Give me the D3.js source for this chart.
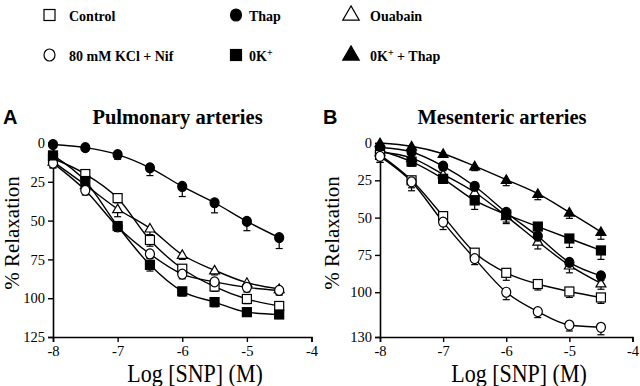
<!DOCTYPE html>
<html>
<head>
<meta charset="utf-8">
<script src="https://cdn.jsdelivr.net/npm/d3@7"></script>
<style>
  body { margin: 0; background: #fff; }
  svg { display: block; }
  text { fill: #000; }
</style>
</head>
<body>
<div class="svg"></div>
<script>
// log doses and axis ticks
const doses = [-8, -7.5, -7, -6.5, -6, -5.5, -5, -4.5];
const xTicks = [-8, -7, -6, -5, -4];
const yTicksA = [0, 25, 50, 75, 100, 125];
const yTicksB = [0, 25, 50, 75, 100, 130];

// Panel A - pulmonary arteries (% relaxation, SEM)
const pulmControl = [10, 20, 35.5, 62.5, 81, 92.5, 100.5, 105];
const pulmThap = [1, 3, 7.5, 16, 28, 38.5, 50.5, 61];
const pulmOuabain = [12, 27, 42.5, 55, 72, 82, 90, 94];
const pulmKcl = [13, 30.5, 54, 71.5, 84.5, 89.5, 93, 95];
const pulm0K = [8, 24.5, 53.5, 78.5, 95.6, 102.5, 109, 110.5];
const pulmControlErr = [3, 3, 3, 4, 4, 3, 3, 2];
const pulmThapErr = [0, 2, 3, 5, 6.5, 6.5, 6, 7];
const pulmOuabainErr = [4, 3, 5, 4, 3, 3, 3, 3];
const pulmKclErr = [3, 3, 3, 3, 3, 2, 3, 3];
const pulm0KErr = [3, 3, 3, 4, 3, 3, 2, 2];

// Panel B - mesenteric arteries
const mesControl = [8, 25, 49, 73.5, 87, 94.5, 99.5, 103.5];
const mesThap = [3, 6, 15.5, 29, 46.5, 62.5, 80, 89];
const mesOuabain = [6, 10, 21, 33, 49, 66, 82, 94];
const mesKcl = [9, 26, 53, 77.5, 100, 113, 122, 123.5];
const mes0K = [5, 12.5, 24, 38.5, 48, 56, 64, 72];
const mes0KThap = [0, 2.2, 7.2, 15.5, 24.6, 34, 46.5, 59.5];
const mesControlErr = [5, 5, 4, 4, 5, 4, 4, 4];
const mesThapErr = [2, 2, 3, 3, 4, 4, 4, 3];
const mesOuabainErr = [3, 3, 3, 4, 5, 5, 5, 4];
const mesKclErr = [4, 6, 5, 4, 5, 4, 4, 5];
const mes0KErr = [3, 3, 3, 6, 5, 5, 6, 6];
const mes0KThapErr = [2, 2, 2, 3, 4, 4, 4, 5];

const serif = "'Liberation Serif', 'Times New Roman', Times, 'DejaVu Serif', serif";
const sans = "'Liberation Sans', Arial, sans-serif";

var svg = d3
  .select(".svg")
  .append("svg")
  .attr("width", 640)
  .attr("height", 386);

// marker shapes
function drawMarker(g, shape, x, y, size) {
  const open = shape.startsWith("open");
  const fill = open ? "#fff" : "#000";
  let el;
  if (shape.endsWith("square")) {
    el = g.append("rect")
      .attr("x", x - size / 2).attr("y", y - size / 2)
      .attr("width", size).attr("height", size);
  } else if (shape.endsWith("circle")) {
    el = g.append("ellipse")
      .attr("cx", x).attr("cy", y)
      .attr("rx", size / 2).attr("ry", size / 2 + 0.5);
  } else {
    const h = size * 0.9;
    el = g.append("path")
      .attr("d", `M${x},${y - h * 0.6} L${x + size * 0.55},${y + h * 0.45} L${x - size * 0.55},${y + h * 0.45}Z`);
  }
  el.attr("fill", fill).attr("stroke", "#000").attr("stroke-width", 1.2);
}

function drawPanel(cfg) {
  const x = d3.scaleLinear().domain([-8, -4]).range([cfg.left, cfg.right]);
  const y = d3.scaleLinear().domain([0, cfg.yMax]).range([143, 337]);
  const g = svg.append("g");

  const xAxis = g.append("g")
    .attr("transform", `translate(0,337)`)
    .call(d3.axisBottom(x).tickValues(xTicks).tickSize(5).tickPadding(4).tickFormat(d3.format("d")));
  const yAxis = g.append("g")
    .attr("transform", `translate(${cfg.left},0)`)
    .call(d3.axisLeft(y).tickValues(cfg.yTicks).tickSize(5).tickPadding(3));
  [xAxis, yAxis].forEach((a) => {
    a.attr("font-family", null);
    a.select(".domain").attr("stroke-width", 1.6);
    a.selectAll(".tick line").attr("stroke-width", 1.4);
    a.selectAll("text")
      .style("font-family", serif)
      .style("font-size", "14.5px");
  });
  xAxis.selectAll("text").text((d) => String(d).replace("\u2212", "-"));

  // curves
  const line = d3.line()
    .x((d) => x(d[0]))
    .y((d) => y(d[1]))
    .curve(d3.curveMonotoneX);
  cfg.series.forEach((s) => {
    g.append("path")
      .attr("d", line(doses.map((d, i) => [d, s.values[i]])))
      .attr("fill", "none")
      .attr("stroke", "#000")
      .attr("stroke-width", 1.4);
  });

  // SEM bars (one-sided)
  cfg.series.forEach((s) => {
    doses.forEach((d, i) => {
      const e = s.err[i];
      if (e < 1) return;
      const cx = x(d), y0 = y(s.values[i]), y1 = y(s.values[i] + e);
      g.append("line").attr("x1", cx).attr("x2", cx).attr("y1", y0).attr("y2", y1)
        .attr("stroke", "#000").attr("stroke-width", 1.2);
      g.append("line").attr("x1", cx - 3.5).attr("x2", cx + 3.5).attr("y1", y1).attr("y2", y1)
        .attr("stroke", "#000").attr("stroke-width", 1.2);
    });
  });

  // markers
  cfg.series.forEach((s) => {
    doses.forEach((d, i) => drawMarker(g, s.shape, x(d), y(s.values[i]), 9));
  });

  // labels
  g.append("text")
    .attr("x", cfg.letterX).attr("y", 124)
    .style("font-family", sans).style("font-weight", "bold").style("font-size", "20px")
    .text(cfg.letter);
  g.append("text")
    .attr("x", cfg.titleX).attr("y", 124)
    .attr("text-anchor", "middle")
    .style("font-family", serif).style("font-weight", "bold").style("font-size", "20.5px")
    .text(cfg.title);
  g.append("text")
    .attr("transform", `translate(${cfg.yLabelX},233) rotate(-90)`)
    .attr("text-anchor", "middle")
    .style("font-family", serif).style("font-size", "21px")
    .text("% Relaxation");
  g.append("text")
    .attr("transform", `translate(${cfg.xLabelX},382) scale(1,1.15)`)
    .attr("text-anchor", "middle")
    .style("font-family", serif).style("font-size", "22px")
    .text("Log [SNP] (M)");
}

drawPanel({
  left: 53, right: 311.5, yMax: 125, yTicks: yTicksA,
  letter: "A", letterX: 3, title: "Pulmonary arteries", titleX: 177.5,
  yLabelX: 18.5, xLabelX: 195,
  series: [
    { values: pulmThap, err: pulmThapErr, shape: "filled-circle" },
    { values: pulmOuabain, err: pulmOuabainErr, shape: "open-triangle" },
    { values: pulmControl, err: pulmControlErr, shape: "open-square" },
    { values: pulmKcl, err: pulmKclErr, shape: "open-circle" },
    { values: pulm0K, err: pulm0KErr, shape: "filled-square" },
  ],
});

drawPanel({
  left: 380, right: 632.5, yMax: 130, yTicks: yTicksB,
  letter: "B", letterX: 323, title: "Mesenteric arteries", titleX: 502,
  yLabelX: 338.5, xLabelX: 519,
  series: [
    { values: mes0KThap, err: mes0KThapErr, shape: "filled-triangle" },
    { values: mesOuabain, err: mesOuabainErr, shape: "open-triangle" },
    { values: mesThap, err: mesThapErr, shape: "filled-circle" },
    { values: mes0K, err: mes0KErr, shape: "filled-square" },
    { values: mesControl, err: mesControlErr, shape: "open-square" },
    { values: mesKcl, err: mesKclErr, shape: "open-circle" },
  ],
});

// legend
const legendItems = [
  { label: "Control", shape: "open-square", x: 49.5, y: 15 },
  { label: "Thap", shape: "filled-circle", x: 236, y: 15 },
  { label: "Ouabain", shape: "open-triangle", x: 351, y: 14 },
  { label: "80 mM KCl + Nif", shape: "open-circle", x: 49.5, y: 55 },
  { label: "0K|+", shape: "filled-square", x: 236, y: 55 },
  { label: "0K|+| + Thap", shape: "filled-triangle", x: 351, y: 54 },
];
const textX = [69, 249, 370];
const legend = svg.append("g");
legendItems.forEach((item, i) => {
  const size = item.shape.endsWith("triangle") ? 15 : 11;
  drawMarker(legend, item.shape, item.x, item.y, size);
  const t = legend.append("text")
    .attr("x", textX[i % 3])
    .attr("y", item.y + (item.shape.endsWith("triangle") ? 7 : 6))
    .style("font-family", serif).style("font-weight", "bold").style("font-size", "14px");
  const parts = item.label.split("|");
  parts.forEach((p, j) => {
    t.append("tspan")
      .attr("baseline-shift", j === 1 ? "super" : null)
      .style("font-size", j === 1 ? "10px" : null)
      .text(p);
  });
});
</script>
</body>
</html>
